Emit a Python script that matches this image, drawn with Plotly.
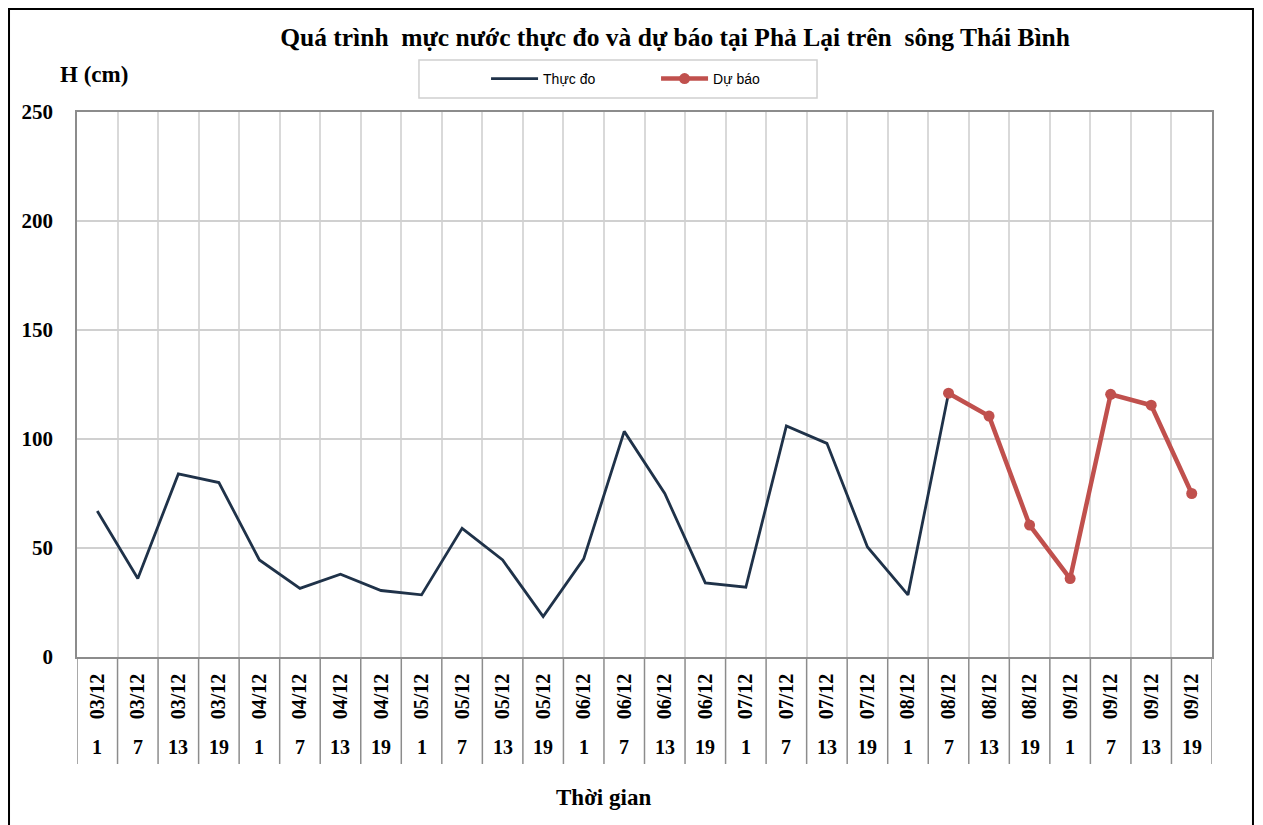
import plotly.graph_objects as go

dates = ["03/12"] * 4 + ["04/12"] * 4 + ["05/12"] * 4 + ["06/12"] * 4 + ["07/12"] * 4 + ["08/12"] * 4 + ["09/12"] * 4
hours = ["1", "7", "13", "19"] * 7

observed = [67, 36, 84, 80, 44.5, 31.5, 38, 30.5, 28.5, 59, 44.5, 18.5, 45, 103.5,
            75, 34, 32, 106, 98, 50.5, 28.5, 121]
forecast = [None] * 21 + [121, 110.5, 60.5, 36, 120.5, 115.5, 75]

y_ticks = [0, 50, 100, 150, 200, 250]

SERIF = "Liberation Serif, Times New Roman, serif"
NARROW = "Liberation Sans Narrow, Arial Narrow, Liberation Sans, sans-serif"

n = len(dates)
idx = list(range(n))

fig = go.Figure()
fig.add_trace(go.Scatter(
    x=idx[:len(observed)], y=observed, mode="lines", name="Thực đo",
    line=dict(color="#1F3249", width=2.8), hoverinfo="skip"))
fig.add_trace(go.Scatter(
    x=idx, y=forecast, mode="lines+markers", name="Dự báo",
    line=dict(color="#C0504D", width=4.5),
    marker=dict(color="#C0504D", size=11), hoverinfo="skip"))

shapes = []
# separators between category labels below axis
for i in range(n + 1):
    shapes.append(dict(type="line", xref="x", yref="paper", x0=i - 0.5, x1=i - 0.5,
                       y0=0, y1=-0.1963, line=dict(color="#8c8c8c", width=1.5)))
# legend box
shapes.append(dict(type="rect", xref="paper", yref="paper", x0=0.3013, x1=0.652,
                   y0=1.0257, y1=1.0954, line=dict(color="#d0d0d0", width=1.5)))
# outer frame
shapes.append(dict(type="rect", xref="paper", yref="paper", x0=-0.0599, x1=1.0361,
                   y0=-0.32, y1=1.189, line=dict(color="black", width=2)))

annotations = []
for i, h in enumerate(hours):
    annotations.append(dict(x=i, y=0, xref="x", yref="paper", text=h, showarrow=False,
                            yanchor="middle", yshift=-90,
                            font=dict(family=SERIF, size=20, color="black", weight="bold")))
annotations.append(dict(x=-0.0167, y=1.0697, xref="paper", yref="paper", text="H (cm)",
                        showarrow=False, xanchor="left", yanchor="middle",
                        font=dict(family=SERIF, size=23, color="black", weight="bold")))
annotations.append(dict(x=0.464, y=-0.2587, xref="paper", yref="paper", text="Thời gian",
                        showarrow=False, xanchor="center", yanchor="middle",
                        font=dict(family=SERIF, size=23, color="black", weight="bold")))

fig.update_layout(
    width=1255, height=817,
    margin=dict(l=69, r=51, t=104, b=168),
    paper_bgcolor="white", plot_bgcolor="white",
    title=dict(text="Quá trình\u00a0 mực nước thực đo và dự báo tại Phả Lại trên\u00a0 sông Thái Bình",
               x=0.5315, xanchor="center", y=1 - 29 / 817, yanchor="middle",
               font=dict(family=SERIF, size=25.5, color="black", weight="bold")),
    showlegend=True,
    legend=dict(orientation="h", x=0.3604, xanchor="left", y=1.0606, yanchor="middle",
                bgcolor="rgba(0,0,0,0)", borderwidth=0, itemwidth=47, entrywidth=108,
                font=dict(family=NARROW, size=14, color="black")),
    xaxis=dict(range=[-0.5, n - 0.5], tickmode="array", tickvals=idx, ticktext=dates,
               tickangle=-90, ticks="", showgrid=False, zeroline=False,
               showline=True, linecolor="#8c8c8c", linewidth=1.5, mirror=True,
               ticklabelstandoff=7,
               tickfont=dict(family=SERIF, size=20, color="black", weight="bold"),
               minor=dict(tickmode="array", tickvals=[i + 0.5 for i in range(n - 1)],
                          showgrid=True, gridcolor="#d9d9d9", gridwidth=1.5, ticks="")),
    yaxis=dict(range=[0, 250], tickmode="array", tickvals=y_ticks,
               showgrid=True, gridcolor="#d0d0d0", gridwidth=1.5, zeroline=False,
               showline=True, linecolor="#8c8c8c", linewidth=1.5, mirror=True,
               ticks="", ticklabelstandoff=18,
               tickfont=dict(family=SERIF, size=21, color="black", weight="bold")),
    shapes=shapes, annotations=annotations,
)

fig.write_html("out.html")
